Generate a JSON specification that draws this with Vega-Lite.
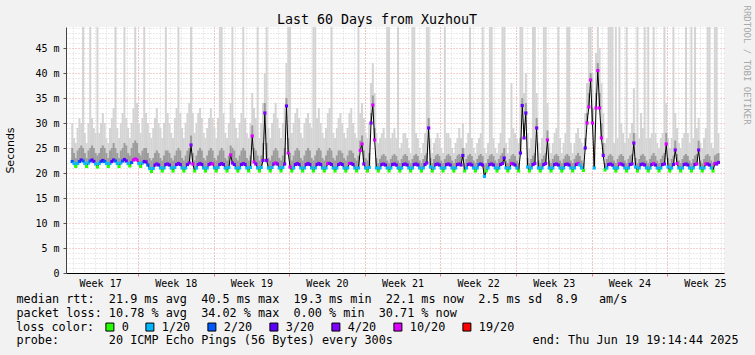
{
"$schema":"https://vega.github.io/schema/vega-lite/v6.json",
"width":658,"height":246,
"autosize":{"type":"none"},
"padding":{"left":66,"top":27,"right":31,"bottom":82},
"background":"#f2f2f2",
"title":{"text":"Last 60 Days from XuzhouT","font":"DejaVu Sans Mono","fontSize":13.3,"fontWeight":"normal","color":"#000000","anchor":"middle","frame":"group","dx":-18,"dy":35,"offset":3,"baseline":"alphabetic"},
"config":{"view":{"fill":"#ffffff","stroke":null}},
"data":{"format":{"parse":{"t":"utc:'%Y-%m-%d %H'"}},"values":[
{"t":"2025-04-20 22","m":22.3,"l":2,"a":25,"b":30},
{"t":"2025-04-21 02","m":21.9,"l":1,"a":24,"b":27},{"t":"2025-04-21 06","m":21.3,"l":0,"a":23,"b":26},{"t":"2025-04-21 10","m":21.9,"l":1,"a":24.5,"b":29},{"t":"2025-04-21 14","m":22.3,"l":2,"a":25,"b":31},{"t":"2025-04-21 18","m":22.6,"l":3,"a":25.5,"b":30},{"t":"2025-04-21 22","m":22.4,"l":2,"a":25,"b":50},
{"t":"2025-04-22 02","m":21.9,"l":1,"a":24,"b":28},{"t":"2025-04-22 06","m":21.3,"l":0,"a":23,"b":26},{"t":"2025-04-22 10","m":22.0,"l":1,"a":24.5,"b":30},{"t":"2025-04-22 14","m":22.4,"l":2,"a":25,"b":50},{"t":"2025-04-22 18","m":22.6,"l":3,"a":25.5,"b":31},{"t":"2025-04-22 22","m":22.3,"l":3,"a":25,"b":29},
{"t":"2025-04-23 02","m":21.8,"l":1,"a":24,"b":28},{"t":"2025-04-23 06","m":21.2,"l":0,"a":23.5,"b":50},{"t":"2025-04-23 10","m":21.9,"l":1,"a":24,"b":28},{"t":"2025-04-23 14","m":22.3,"l":2,"a":25,"b":30},{"t":"2025-04-23 18","m":22.5,"l":3,"a":25.5,"b":32},{"t":"2025-04-23 22","m":22.3,"l":2,"a":25,"b":30},
{"t":"2025-04-24 02","m":21.9,"l":1,"a":24,"b":27},{"t":"2025-04-24 06","m":21.3,"l":0,"a":23,"b":26},{"t":"2025-04-24 10","m":21.9,"l":1,"a":24.5,"b":29},{"t":"2025-04-24 14","m":22.3,"l":3,"a":25,"b":31},{"t":"2025-04-24 18","m":22.6,"l":3,"a":26,"b":33},{"t":"2025-04-24 22","m":22.4,"l":2,"a":25,"b":50},
{"t":"2025-04-25 02","m":21.9,"l":1,"a":24,"b":29},{"t":"2025-04-25 06","m":21.3,"l":0,"a":23,"b":27},{"t":"2025-04-25 10","m":22.0,"l":1,"a":24.5,"b":30},{"t":"2025-04-25 14","m":22.4,"l":2,"a":25,"b":32},{"t":"2025-04-25 18","m":22.7,"l":3,"a":26,"b":50},{"t":"2025-04-25 22","m":22.4,"l":3,"a":25.5,"b":31},
{"t":"2025-04-26 02","m":21.9,"l":1,"a":24,"b":29},{"t":"2025-04-26 06","m":21.4,"l":0,"a":23.5,"b":27},{"t":"2025-04-26 10","m":22.1,"l":2,"a":25,"b":30},{"t":"2025-04-26 14","m":22.6,"l":10,"a":26,"b":33},{"t":"2025-04-26 18","m":22.8,"l":10,"a":26.5,"b":50},{"t":"2025-04-26 22","m":22.6,"l":10,"a":26,"b":34},
{"t":"2025-04-27 02","m":21.9,"l":1,"a":24,"b":30},{"t":"2025-04-27 06","m":21.3,"l":0,"a":23.5,"b":28},{"t":"2025-04-27 10","m":22.0,"l":1,"a":24.5,"b":31},{"t":"2025-04-27 14","m":22.3,"l":3,"a":25,"b":50},{"t":"2025-04-27 18","m":22.2,"l":3,"a":25,"b":32},{"t":"2025-04-27 22","m":21.6,"l":2,"a":24,"b":30},
{"t":"2025-04-28 02","m":20.9,"l":1,"a":23,"b":28},{"t":"2025-04-28 06","m":20.3,"l":0,"a":22.5,"b":27},{"t":"2025-04-28 10","m":20.9,"l":1,"a":23,"b":29},{"t":"2025-04-28 14","m":21.6,"l":3,"a":24,"b":31},{"t":"2025-04-28 18","m":21.8,"l":4,"a":24.5,"b":33},{"t":"2025-04-28 22","m":21.6,"l":3,"a":24,"b":30},
{"t":"2025-04-29 02","m":21.0,"l":1,"a":23,"b":29},{"t":"2025-04-29 06","m":20.4,"l":0,"a":22.5,"b":27},{"t":"2025-04-29 10","m":21.0,"l":1,"a":23.5,"b":30},{"t":"2025-04-29 14","m":21.7,"l":3,"a":24.5,"b":50},{"t":"2025-04-29 18","m":21.8,"l":4,"a":24.5,"b":32},{"t":"2025-04-29 22","m":21.6,"l":3,"a":24,"b":30},
{"t":"2025-04-30 02","m":21.0,"l":1,"a":23,"b":28},{"t":"2025-04-30 06","m":20.4,"l":0,"a":22.5,"b":27},{"t":"2025-04-30 10","m":21.1,"l":1,"a":23.5,"b":31},{"t":"2025-04-30 14","m":21.7,"l":3,"a":24.5,"b":33},{"t":"2025-04-30 18","m":21.9,"l":4,"a":25,"b":50},{"t":"2025-04-30 22","m":21.7,"l":3,"a":24.5,"b":32},
{"t":"2025-05-01 02","m":21.0,"l":1,"a":23,"b":29},{"t":"2025-05-01 06","m":20.4,"l":0,"a":22.5,"b":27},{"t":"2025-05-01 10","m":21.0,"l":1,"a":23.5,"b":30},{"t":"2025-05-01 14","m":21.7,"l":3,"a":24.5,"b":32},{"t":"2025-05-01 18","m":22.0,"l":4,"a":25,"b":34},{"t":"2025-05-01 22","m":25.6,"l":4,"a":27.5,"b":50},
{"t":"2025-05-02 02","m":21.8,"l":10,"a":24,"b":32},{"t":"2025-05-02 06","m":20.4,"l":0,"a":22.5,"b":28},{"t":"2025-05-02 10","m":21.0,"l":1,"a":23.5,"b":30},{"t":"2025-05-02 14","m":21.7,"l":4,"a":24.5,"b":32},{"t":"2025-05-02 18","m":21.9,"l":4,"a":25,"b":33},{"t":"2025-05-02 22","m":21.7,"l":3,"a":24.5,"b":31},
{"t":"2025-05-03 02","m":21.0,"l":1,"a":23,"b":28},{"t":"2025-05-03 06","m":20.4,"l":0,"a":22.5,"b":27},{"t":"2025-05-03 10","m":21.0,"l":1,"a":23.5,"b":29},{"t":"2025-05-03 14","m":21.7,"l":4,"a":24.5,"b":31},{"t":"2025-05-03 18","m":21.9,"l":4,"a":25,"b":33},{"t":"2025-05-03 22","m":21.8,"l":10,"a":24.5,"b":31},
{"t":"2025-05-04 02","m":21.0,"l":1,"a":23,"b":29},{"t":"2025-05-04 06","m":20.4,"l":0,"a":22.5,"b":27},{"t":"2025-05-04 10","m":21.1,"l":1,"a":23.5,"b":31},{"t":"2025-05-04 14","m":21.7,"l":3,"a":24.5,"b":50},{"t":"2025-05-04 18","m":21.9,"l":4,"a":25,"b":50},{"t":"2025-05-04 22","m":21.7,"l":3,"a":24.5,"b":32},
{"t":"2025-05-05 02","m":21.0,"l":1,"a":23,"b":28},{"t":"2025-05-05 06","m":20.4,"l":0,"a":22.5,"b":27},{"t":"2025-05-05 10","m":21.1,"l":1,"a":23.5,"b":30},{"t":"2025-05-05 14","m":23.6,"l":10,"a":25.5,"b":34},{"t":"2025-05-05 18","m":22.0,"l":4,"a":25,"b":50},{"t":"2025-05-05 22","m":21.7,"l":3,"a":24.5,"b":31},
{"t":"2025-05-06 02","m":21.0,"l":1,"a":23,"b":29},{"t":"2025-05-06 06","m":20.4,"l":0,"a":22.5,"b":27},{"t":"2025-05-06 10","m":21.0,"l":1,"a":23.5,"b":30},{"t":"2025-05-06 14","m":21.7,"l":3,"a":24.5,"b":32},{"t":"2025-05-06 18","m":21.9,"l":4,"a":25,"b":50},{"t":"2025-05-06 22","m":21.7,"l":3,"a":24.5,"b":31},
{"t":"2025-05-07 02","m":21.0,"l":1,"a":23,"b":28},{"t":"2025-05-07 06","m":20.4,"l":0,"a":22.5,"b":27},{"t":"2025-05-07 10","m":21.1,"l":1,"a":23.5,"b":30},{"t":"2025-05-07 14","m":27.4,"l":10,"a":29.5,"b":36},{"t":"2025-05-07 18","m":22.2,"l":10,"a":25,"b":33},{"t":"2025-05-07 22","m":21.8,"l":4,"a":24.5,"b":31},
{"t":"2025-05-08 02","m":21.0,"l":1,"a":23.5,"b":50},{"t":"2025-05-08 06","m":20.4,"l":0,"a":22.5,"b":27},{"t":"2025-05-08 10","m":21.1,"l":1,"a":23.5,"b":30},{"t":"2025-05-08 14","m":22.5,"l":4,"a":26,"b":34},{"t":"2025-05-08 18","m":32.0,"l":4,"a":34,"b":40},{"t":"2025-05-08 22","m":22.5,"l":4,"a":26,"b":50},
{"t":"2025-05-09 02","m":21.0,"l":1,"a":23,"b":29},{"t":"2025-05-09 06","m":20.4,"l":0,"a":22.5,"b":27},{"t":"2025-05-09 10","m":21.1,"l":1,"a":23.5,"b":30},{"t":"2025-05-09 14","m":21.8,"l":4,"a":24.5,"b":32},{"t":"2025-05-09 18","m":22.0,"l":10,"a":25,"b":34},{"t":"2025-05-09 22","m":21.8,"l":4,"a":24.5,"b":31},
{"t":"2025-05-10 02","m":21.0,"l":1,"a":23,"b":29},{"t":"2025-05-10 06","m":20.4,"l":0,"a":22.5,"b":27},{"t":"2025-05-10 10","m":21.1,"l":1,"a":23.5,"b":30},{"t":"2025-05-10 14","m":21.8,"l":4,"a":25,"b":33},{"t":"2025-05-10 18","m":33.4,"l":3,"a":35,"b":42},{"t":"2025-05-10 22","m":24.0,"l":10,"a":27,"b":50},
{"t":"2025-05-11 02","m":21.2,"l":10,"a":24,"b":50},{"t":"2025-05-11 06","m":20.4,"l":0,"a":22.5,"b":28},{"t":"2025-05-11 10","m":21.0,"l":1,"a":23.5,"b":30},{"t":"2025-05-11 14","m":21.7,"l":3,"a":24.5,"b":32},{"t":"2025-05-11 18","m":21.9,"l":4,"a":25,"b":33},{"t":"2025-05-11 22","m":21.7,"l":3,"a":24.5,"b":31},
{"t":"2025-05-12 02","m":21.0,"l":1,"a":23,"b":28},{"t":"2025-05-12 06","m":20.4,"l":0,"a":22.5,"b":27},{"t":"2025-05-12 10","m":21.0,"l":1,"a":23.5,"b":30},{"t":"2025-05-12 14","m":21.7,"l":3,"a":24.5,"b":31},{"t":"2025-05-12 18","m":21.9,"l":4,"a":25,"b":32},{"t":"2025-05-12 22","m":21.7,"l":3,"a":24.5,"b":30},
{"t":"2025-05-13 02","m":21.0,"l":1,"a":23,"b":29},{"t":"2025-05-13 06","m":20.4,"l":0,"a":22.5,"b":50},{"t":"2025-05-13 10","m":21.0,"l":1,"a":23.5,"b":50},{"t":"2025-05-13 14","m":21.7,"l":3,"a":24.5,"b":31},{"t":"2025-05-13 18","m":21.9,"l":4,"a":25,"b":33},{"t":"2025-05-13 22","m":21.7,"l":3,"a":24.5,"b":30},
{"t":"2025-05-14 02","m":21.0,"l":1,"a":23,"b":28},{"t":"2025-05-14 06","m":20.4,"l":0,"a":22.5,"b":27},{"t":"2025-05-14 10","m":21.0,"l":1,"a":23.5,"b":29},{"t":"2025-05-14 14","m":21.9,"l":10,"a":24.5,"b":32},{"t":"2025-05-14 18","m":21.9,"l":4,"a":25,"b":33},{"t":"2025-05-14 22","m":21.7,"l":3,"a":24.5,"b":50},
{"t":"2025-05-15 02","m":21.0,"l":1,"a":23,"b":28},{"t":"2025-05-15 06","m":20.4,"l":0,"a":22.5,"b":27},{"t":"2025-05-15 10","m":21.0,"l":1,"a":23.5,"b":29},{"t":"2025-05-15 14","m":21.7,"l":3,"a":24.5,"b":31},{"t":"2025-05-15 18","m":21.9,"l":4,"a":24.5,"b":32},{"t":"2025-05-15 22","m":21.7,"l":3,"a":24,"b":30},
{"t":"2025-05-16 02","m":21.0,"l":1,"a":23,"b":28},{"t":"2025-05-16 06","m":20.4,"l":0,"a":22.5,"b":27},{"t":"2025-05-16 10","m":21.0,"l":1,"a":23.5,"b":29},{"t":"2025-05-16 14","m":21.9,"l":10,"a":24.5,"b":32},{"t":"2025-05-16 18","m":21.9,"l":4,"a":24.5,"b":33},{"t":"2025-05-16 22","m":21.7,"l":3,"a":24,"b":30},
{"t":"2025-05-17 02","m":21.0,"l":1,"a":23,"b":28},{"t":"2025-05-17 06","m":20.4,"l":0,"a":22.5,"b":27},{"t":"2025-05-17 10","m":21.0,"l":1,"a":23.5,"b":50},{"t":"2025-05-17 14","m":24.5,"l":10,"a":26.5,"b":32},{"t":"2025-05-17 18","m":25.8,"l":10,"a":27.5,"b":34},{"t":"2025-05-17 22","m":21.8,"l":4,"a":24.5,"b":31},
{"t":"2025-05-18 02","m":21.0,"l":1,"a":23,"b":28},{"t":"2025-05-18 06","m":20.4,"l":0,"a":22.5,"b":27},{"t":"2025-05-18 10","m":21.1,"l":1,"a":24,"b":30},{"t":"2025-05-18 14","m":30.0,"l":4,"a":32,"b":38},{"t":"2025-05-18 18","m":33.6,"l":10,"a":35.5,"b":42},{"t":"2025-05-18 22","m":26.6,"l":10,"a":29,"b":36},
{"t":"2025-05-19 02","m":21.0,"l":1,"a":23,"b":28},{"t":"2025-05-19 06","m":20.4,"l":0,"a":22,"b":26},{"t":"2025-05-19 10","m":21.0,"l":1,"a":22.8,"b":27},{"t":"2025-05-19 14","m":21.7,"l":3,"a":23.5,"b":28},{"t":"2025-05-19 18","m":21.8,"l":4,"a":23.8,"b":29},{"t":"2025-05-19 22","m":21.6,"l":3,"a":23.4,"b":27},
{"t":"2025-05-20 02","m":21.0,"l":1,"a":22.5,"b":50},{"t":"2025-05-20 06","m":20.4,"l":0,"a":22,"b":50},{"t":"2025-05-20 10","m":21.0,"l":1,"a":22.8,"b":27},{"t":"2025-05-20 14","m":21.7,"l":3,"a":23.5,"b":28},{"t":"2025-05-20 18","m":21.8,"l":4,"a":23.8,"b":29},{"t":"2025-05-20 22","m":21.6,"l":3,"a":23.4,"b":27},
{"t":"2025-05-21 02","m":21.0,"l":1,"a":22.5,"b":50},{"t":"2025-05-21 06","m":20.4,"l":0,"a":22,"b":25},{"t":"2025-05-21 10","m":21.0,"l":1,"a":22.8,"b":26},{"t":"2025-05-21 14","m":21.7,"l":3,"a":23.5,"b":28},{"t":"2025-05-21 18","m":21.8,"l":4,"a":23.8,"b":28},{"t":"2025-05-21 22","m":21.6,"l":3,"a":23.4,"b":27},
{"t":"2025-05-22 02","m":21.0,"l":1,"a":22.5,"b":25},{"t":"2025-05-22 06","m":20.4,"l":0,"a":22,"b":24},{"t":"2025-05-22 10","m":21.0,"l":1,"a":22.8,"b":50},{"t":"2025-05-22 14","m":21.7,"l":3,"a":23.5,"b":50},{"t":"2025-05-22 18","m":21.8,"l":4,"a":23.8,"b":28},{"t":"2025-05-22 22","m":21.6,"l":3,"a":23.4,"b":27},
{"t":"2025-05-23 02","m":21.0,"l":1,"a":22.5,"b":25},{"t":"2025-05-23 06","m":20.4,"l":0,"a":22,"b":24},{"t":"2025-05-23 10","m":21.0,"l":1,"a":22.8,"b":26},{"t":"2025-05-23 14","m":21.7,"l":3,"a":23.5,"b":28},{"t":"2025-05-23 18","m":22.0,"l":4,"a":24,"b":50},{"t":"2025-05-23 22","m":29.0,"l":4,"a":31,"b":50},
{"t":"2025-05-24 02","m":21.2,"l":1,"a":23,"b":27},{"t":"2025-05-24 06","m":20.4,"l":0,"a":22,"b":24},{"t":"2025-05-24 10","m":21.0,"l":1,"a":22.8,"b":26},{"t":"2025-05-24 14","m":21.7,"l":3,"a":23.5,"b":27},{"t":"2025-05-24 18","m":21.8,"l":4,"a":23.8,"b":28},{"t":"2025-05-24 22","m":21.6,"l":3,"a":23.4,"b":27},
{"t":"2025-05-25 02","m":21.0,"l":1,"a":22.5,"b":25},{"t":"2025-05-25 06","m":20.4,"l":0,"a":22,"b":24},{"t":"2025-05-25 10","m":21.0,"l":1,"a":22.8,"b":50},{"t":"2025-05-25 14","m":21.7,"l":3,"a":23.5,"b":28},{"t":"2025-05-25 18","m":21.8,"l":4,"a":23.8,"b":28},{"t":"2025-05-25 22","m":21.6,"l":3,"a":23.4,"b":27},
{"t":"2025-05-26 02","m":21.0,"l":1,"a":22.5,"b":25},{"t":"2025-05-26 06","m":20.4,"l":0,"a":22,"b":24},{"t":"2025-05-26 10","m":21.0,"l":1,"a":22.8,"b":26},{"t":"2025-05-26 14","m":21.7,"l":3,"a":23.5,"b":27},{"t":"2025-05-26 18","m":21.8,"l":4,"a":23.8,"b":29},{"t":"2025-05-26 22","m":21.6,"l":3,"a":23.4,"b":27},
{"t":"2025-05-27 02","m":23.5,"l":3,"a":25,"b":30},{"t":"2025-05-27 06","m":20.4,"l":0,"a":22,"b":25},{"t":"2025-05-27 10","m":21.0,"l":1,"a":22.8,"b":26},{"t":"2025-05-27 14","m":21.7,"l":3,"a":23.5,"b":28},{"t":"2025-05-27 18","m":21.8,"l":4,"a":23.8,"b":50},{"t":"2025-05-27 22","m":21.6,"l":3,"a":23.4,"b":27},
{"t":"2025-05-28 02","m":21.0,"l":1,"a":22.5,"b":25},{"t":"2025-05-28 06","m":20.4,"l":0,"a":22,"b":24},{"t":"2025-05-28 10","m":21.0,"l":1,"a":22.8,"b":26},{"t":"2025-05-28 14","m":21.7,"l":2,"a":23.5,"b":27},{"t":"2025-05-28 18","m":21.8,"l":3,"a":23.8,"b":28},{"t":"2025-05-28 22","m":21.6,"l":3,"a":23.4,"b":50},
{"t":"2025-05-29 02","m":19.3,"l":1,"a":21.5,"b":25},{"t":"2025-05-29 06","m":20.4,"l":0,"a":22,"b":24},{"t":"2025-05-29 10","m":21.0,"l":1,"a":22.8,"b":26},{"t":"2025-05-29 14","m":21.7,"l":3,"a":23.5,"b":50},{"t":"2025-05-29 18","m":21.8,"l":4,"a":23.8,"b":50},{"t":"2025-05-29 22","m":21.6,"l":3,"a":23.4,"b":27},
{"t":"2025-05-30 02","m":21.0,"l":1,"a":22.5,"b":25},{"t":"2025-05-30 06","m":20.4,"l":0,"a":22,"b":24},{"t":"2025-05-30 10","m":21.0,"l":1,"a":22.8,"b":26},{"t":"2025-05-30 14","m":21.7,"l":3,"a":23.5,"b":28},{"t":"2025-05-30 18","m":21.9,"l":4,"a":24,"b":50},{"t":"2025-05-30 22","m":23.0,"l":3,"a":25,"b":50},
{"t":"2025-05-31 02","m":21.0,"l":1,"a":22.5,"b":26},{"t":"2025-05-31 06","m":20.4,"l":0,"a":22,"b":24},{"t":"2025-05-31 10","m":21.0,"l":1,"a":22.8,"b":27},{"t":"2025-05-31 14","m":21.9,"l":10,"a":23.5,"b":38},{"t":"2025-05-31 18","m":21.8,"l":4,"a":23.8,"b":29},{"t":"2025-05-31 22","m":21.6,"l":3,"a":23.4,"b":28},
{"t":"2025-06-01 02","m":21.0,"l":1,"a":22.5,"b":27},{"t":"2025-06-01 06","m":20.4,"l":0,"a":22,"b":26},{"t":"2025-06-01 10","m":24.0,"l":3,"a":27,"b":50},{"t":"2025-06-01 14","m":33.5,"l":3,"a":35,"b":50},{"t":"2025-06-01 18","m":27.0,"l":4,"a":30,"b":36},{"t":"2025-06-01 22","m":32.0,"l":3,"a":34,"b":40},
{"t":"2025-06-02 02","m":21.2,"l":1,"a":23,"b":28},{"t":"2025-06-02 06","m":20.4,"l":0,"a":22,"b":25},{"t":"2025-06-02 10","m":21.0,"l":1,"a":22.8,"b":27},{"t":"2025-06-02 14","m":21.7,"l":3,"a":23.5,"b":50},{"t":"2025-06-02 18","m":21.9,"l":4,"a":24,"b":50},{"t":"2025-06-02 22","m":29.0,"l":4,"a":31,"b":36},
{"t":"2025-06-03 02","m":21.0,"l":1,"a":22.5,"b":26},{"t":"2025-06-03 06","m":20.4,"l":0,"a":22,"b":24},{"t":"2025-06-03 10","m":21.0,"l":1,"a":22.8,"b":27},{"t":"2025-06-03 14","m":21.7,"l":3,"a":23.5,"b":50},{"t":"2025-06-03 18","m":21.9,"l":4,"a":24,"b":50},{"t":"2025-06-03 22","m":26.6,"l":10,"a":28.5,"b":34},
{"t":"2025-06-04 02","m":21.0,"l":1,"a":22.5,"b":26},{"t":"2025-06-04 06","m":20.4,"l":0,"a":22,"b":24},{"t":"2025-06-04 10","m":21.0,"l":1,"a":22.8,"b":26},{"t":"2025-06-04 14","m":21.7,"l":3,"a":23.5,"b":28},{"t":"2025-06-04 18","m":21.8,"l":4,"a":23.8,"b":29},{"t":"2025-06-04 22","m":21.6,"l":3,"a":23.4,"b":50},
{"t":"2025-06-05 02","m":21.0,"l":1,"a":22.5,"b":27},{"t":"2025-06-05 06","m":20.4,"l":0,"a":22,"b":24},{"t":"2025-06-05 10","m":21.0,"l":1,"a":22.8,"b":26},{"t":"2025-06-05 14","m":21.7,"l":3,"a":23.5,"b":28},{"t":"2025-06-05 18","m":21.8,"l":4,"a":23.8,"b":50},{"t":"2025-06-05 22","m":21.6,"l":3,"a":23.4,"b":50},
{"t":"2025-06-06 02","m":21.0,"l":1,"a":22.5,"b":26},{"t":"2025-06-06 06","m":20.4,"l":0,"a":22,"b":24},{"t":"2025-06-06 10","m":21.0,"l":1,"a":22.8,"b":26},{"t":"2025-06-06 14","m":21.7,"l":3,"a":23.5,"b":28},{"t":"2025-06-06 18","m":21.9,"l":10,"a":24,"b":29},{"t":"2025-06-06 22","m":21.6,"l":1,"a":23.4,"b":27},
{"t":"2025-06-07 02","m":21.0,"l":1,"a":22.5,"b":26},{"t":"2025-06-07 06","m":20.5,"l":0,"a":22,"b":25},{"t":"2025-06-07 10","m":25.0,"l":3,"a":27,"b":32},{"t":"2025-06-07 14","m":30.0,"l":10,"a":32,"b":38},{"t":"2025-06-07 18","m":33.2,"l":10,"a":36,"b":50},{"t":"2025-06-07 22","m":38.6,"l":10,"a":40,"b":50},
{"t":"2025-06-08 02","m":30.0,"l":10,"a":33,"b":40},{"t":"2025-06-08 06","m":21.0,"l":1,"a":24,"b":30},{"t":"2025-06-08 10","m":33.0,"l":10,"a":36,"b":44},{"t":"2025-06-08 14","m":40.5,"l":10,"a":42,"b":50},{"t":"2025-06-08 18","m":33.0,"l":10,"a":36,"b":45},{"t":"2025-06-08 22","m":27.0,"l":10,"a":30,"b":38},
{"t":"2025-06-09 02","m":23.5,"l":4,"a":26,"b":32},{"t":"2025-06-09 06","m":20.6,"l":0,"a":22,"b":26},{"t":"2025-06-09 10","m":21.0,"l":1,"a":22.8,"b":27},{"t":"2025-06-09 14","m":21.7,"l":3,"a":23.5,"b":50},{"t":"2025-06-09 18","m":21.8,"l":4,"a":23.8,"b":50},{"t":"2025-06-09 22","m":21.6,"l":3,"a":23.4,"b":50},
{"t":"2025-06-10 02","m":21.0,"l":1,"a":22.5,"b":26},{"t":"2025-06-10 06","m":20.4,"l":0,"a":22,"b":50},{"t":"2025-06-10 10","m":21.0,"l":1,"a":22.8,"b":27},{"t":"2025-06-10 14","m":21.8,"l":10,"a":23.5,"b":50},{"t":"2025-06-10 18","m":21.8,"l":4,"a":23.8,"b":30},{"t":"2025-06-10 22","m":21.6,"l":3,"a":23.4,"b":28},
{"t":"2025-06-11 02","m":21.0,"l":1,"a":22.5,"b":26},{"t":"2025-06-11 06","m":20.4,"l":0,"a":22,"b":50},{"t":"2025-06-11 10","m":21.0,"l":1,"a":22.8,"b":27},{"t":"2025-06-11 14","m":21.7,"l":3,"a":23.5,"b":28},{"t":"2025-06-11 18","m":21.8,"l":4,"a":23.8,"b":30},{"t":"2025-06-11 22","m":26.0,"l":4,"a":28,"b":37},
{"t":"2025-06-12 02","m":21.2,"l":1,"a":23,"b":28},{"t":"2025-06-12 06","m":20.4,"l":0,"a":22,"b":50},{"t":"2025-06-12 10","m":21.0,"l":1,"a":22.8,"b":27},{"t":"2025-06-12 14","m":21.7,"l":3,"a":23.5,"b":32},{"t":"2025-06-12 18","m":21.8,"l":4,"a":23.8,"b":29},{"t":"2025-06-12 22","m":21.6,"l":3,"a":23.4,"b":50},
{"t":"2025-06-13 02","m":21.0,"l":1,"a":22.5,"b":27},{"t":"2025-06-13 06","m":20.4,"l":0,"a":22,"b":50},{"t":"2025-06-13 10","m":21.0,"l":1,"a":22.8,"b":27},{"t":"2025-06-13 14","m":21.7,"l":3,"a":23.5,"b":28},{"t":"2025-06-13 18","m":21.9,"l":10,"a":24,"b":50},{"t":"2025-06-13 22","m":21.6,"l":3,"a":23.4,"b":28},
{"t":"2025-06-14 02","m":21.0,"l":1,"a":22.5,"b":26},{"t":"2025-06-14 06","m":20.4,"l":0,"a":22,"b":25},{"t":"2025-06-14 10","m":21.0,"l":1,"a":22.8,"b":27},{"t":"2025-06-14 14","m":21.7,"l":3,"a":23.5,"b":28},{"t":"2025-06-14 18","m":21.8,"l":4,"a":24,"b":50},{"t":"2025-06-14 22","m":25.8,"l":10,"a":28,"b":34},
{"t":"2025-06-15 02","m":21.2,"l":1,"a":23,"b":27},{"t":"2025-06-15 06","m":20.4,"l":0,"a":22,"b":25},{"t":"2025-06-15 10","m":21.0,"l":1,"a":22.8,"b":27},{"t":"2025-06-15 14","m":21.7,"l":3,"a":23.5,"b":50},{"t":"2025-06-15 18","m":24.6,"l":4,"a":26.5,"b":32},{"t":"2025-06-15 22","m":21.9,"l":10,"a":23.8,"b":29},
{"t":"2025-06-16 02","m":21.0,"l":1,"a":22.5,"b":26},{"t":"2025-06-16 06","m":20.4,"l":0,"a":22,"b":25},{"t":"2025-06-16 10","m":21.0,"l":1,"a":22.8,"b":27},{"t":"2025-06-16 14","m":21.7,"l":3,"a":23.5,"b":28},{"t":"2025-06-16 18","m":21.8,"l":4,"a":23.8,"b":50},{"t":"2025-06-16 22","m":21.6,"l":3,"a":23.4,"b":28},
{"t":"2025-06-17 02","m":21.0,"l":1,"a":22.5,"b":26},{"t":"2025-06-17 06","m":20.4,"l":0,"a":22,"b":50},{"t":"2025-06-17 10","m":21.0,"l":1,"a":22.8,"b":27},{"t":"2025-06-17 14","m":21.7,"l":3,"a":23.5,"b":50},{"t":"2025-06-17 18","m":21.8,"l":10,"a":23.8,"b":29},{"t":"2025-06-17 22","m":24.6,"l":4,"a":26.5,"b":31},
{"t":"2025-06-18 02","m":21.0,"l":1,"a":22.5,"b":26},{"t":"2025-06-18 06","m":20.4,"l":0,"a":22,"b":25},{"t":"2025-06-18 10","m":21.0,"l":1,"a":22.8,"b":27},{"t":"2025-06-18 14","m":21.8,"l":10,"a":23.5,"b":29},{"t":"2025-06-18 18","m":21.8,"l":4,"a":23.8,"b":50},{"t":"2025-06-18 22","m":21.6,"l":3,"a":23.4,"b":50},
{"t":"2025-06-19 02","m":21.0,"l":1,"a":22.5,"b":26},{"t":"2025-06-19 06","m":20.4,"l":0,"a":22,"b":25},{"t":"2025-06-19 10","m":21.9,"l":10,"a":23.5,"b":50},{"t":"2025-06-19 14","m":21.8,"l":4,"a":23.8,"b":50},{"t":"2025-06-19 18","m":22.1,"l":4,"a":24,"b":28}
]},
"layer":[
{"mark":{"type":"bar","color":"#d4d4d4","width":2,"clip":true},
 "encoding":{
  "x":{"field":"t","type":"temporal","scale":{"type":"utc","nice":false,"domain":[{"year":2025,"month":4,"date":20,"hours":19,"minutes":14,"seconds":44,"utc":true},{"year":2025,"month":6,"date":19,"hours":19,"minutes":14,"seconds":44,"utc":true}]},
   "axis":{"orient":"bottom","labels":false,"ticks":false,"domain":false,"grid":true,"gridColor":"#d6d6d6","gridDash":[1,2],"gridWidth":1,"tickCount":{"interval":"day","step":1},
    "title":"end: Thu Jun 19 19:14:44 2025","titleFont":"DejaVu Sans Mono","titleFontSize":11.8,"titleFontWeight":"normal","titleColor":"#000000","titleX":672,"titleY":70.5,"titleAlign":"right","titleAnchor":"end","titleBaseline":"alphabetic"}},
  "y":{"field":"m","type":"quantitative","scale":{"domain":[0,49.2],"nice":false,"zero":false},
   "axis":{"orient":"left","title":null,"labels":false,"ticks":false,"domain":false,"grid":true,"gridColor":"#d6d6d6","gridDash":[1,2],"gridWidth":1,"values":[1,2,3,4,6,7,8,9,11,12,13,14,16,17,18,19,21,22,23,24,26,27,28,29,31,32,33,34,36,37,38,39,41,42,43,44,46,47,48,49]}},
  "y2":{"field":"b"}}},
{"mark":{"type":"bar","color":"#9c9c9c","width":2,"clip":true},
 "encoding":{
  "x":{"field":"t","type":"temporal","scale":{"type":"utc","nice":false,"domain":[{"year":2025,"month":4,"date":20,"hours":19,"minutes":14,"seconds":44,"utc":true},{"year":2025,"month":6,"date":19,"hours":19,"minutes":14,"seconds":44,"utc":true}]},
   "axis":{"orient":"bottom","labels":false,"ticks":true,"tickColor":"#e08080","tickSize":3,"domain":false,"grid":true,"gridColor":"#eea0a0","gridDash":[1,2],"gridWidth":1,"tickCount":{"interval":"week","step":1},
    "title":"probe:\u00a0\u00a0\u00a0\u00a0\u00a0\u00a0\u00a020 ICMP Echo Pings (56 Bytes) every 300s","titleFont":"DejaVu Sans Mono","titleFontSize":11.8,"titleFontWeight":"normal","titleColor":"#000000","titleX":-50,"titleY":70.5,"titleAlign":"left","titleAnchor":"start","titleBaseline":"alphabetic"}},
  "y":{"field":"m","type":"quantitative","scale":{"domain":[0,49.2],"nice":false,"zero":false},
   "axis":{"orient":"left","values":[0,5,10,15,20,25,30,35,40,45],"labelExpr":"datum.value == 0 ? '0' : datum.value + ' m'","labelFont":"DejaVu Sans Mono","labelFontSize":10,"labelColor":"#000000","labelPadding":4,"ticks":true,"tickSize":3,"tickColor":"#555555","domain":true,"domainColor":"#444444","grid":true,"gridColor":"#eea0a0","gridDash":[1,2],"gridWidth":1,
    "title":"Seconds","titleFont":"DejaVu Sans","titleFontSize":11,"titleFontWeight":"normal","titleColor":"#000000","titleX":-56,"titleY":123,"titleAngle":270,"titleAlign":"center","titleBaseline":"middle"}},
  "y2":{"field":"a"}}},
{"mark":{"type":"line","color":"#000000","strokeWidth":1,"clip":true},
 "encoding":{
  "x":{"field":"t","type":"temporal","scale":{"type":"utc","nice":false,"domain":[{"year":2025,"month":4,"date":20,"hours":19,"minutes":14,"seconds":44,"utc":true},{"year":2025,"month":6,"date":19,"hours":19,"minutes":14,"seconds":44,"utc":true}]},
   "axis":{"orient":"bottom","values":[{"year":2025,"month":4,"date":23,"hours":12,"utc":true},{"year":2025,"month":4,"date":30,"hours":12,"utc":true},{"year":2025,"month":5,"date":7,"hours":12,"utc":true},{"year":2025,"month":5,"date":14,"hours":12,"utc":true},{"year":2025,"month":5,"date":21,"hours":12,"utc":true},{"year":2025,"month":5,"date":28,"hours":12,"utc":true},{"year":2025,"month":6,"date":4,"hours":12,"utc":true},{"year":2025,"month":6,"date":11,"hours":12,"utc":true},{"year":2025,"month":6,"date":18,"hours":12,"utc":true}],
    "labelExpr":"'Week ' + utcFormat(datum.value, '%V')","labelFont":"DejaVu Sans Mono","labelFontSize":10,"labelColor":"#000000","labelPadding":5,"labelFlush":false,"labelOverlap":false,"ticks":false,"grid":false,"domain":true,"domainColor":"#000000","domainWidth":1,
    "title":["median rtt:\u00a0\u00a021.9 ms avg\u00a0\u00a040.5 ms max\u00a0\u00a019.3 ms min\u00a0\u00a022.1 ms now\u00a0\u00a02.5 ms sd\u00a0\u00a08.9\u00a0\u00a0\u00a0am/s","packet loss: 10.78 % avg\u00a0\u00a034.02 % max\u00a0\u00a00.00 % min\u00a0\u00a030.71 % now"],
    "titleFont":"DejaVu Sans Mono","titleFontSize":11.8,"titleFontWeight":"normal","titleColor":"#000000","titleLineHeight":13.7,"titleX":-50,"titleY":29.5,"titleAlign":"left","titleAnchor":"start","titleBaseline":"alphabetic"}},
  "y":{"field":"m","type":"quantitative","scale":{"domain":[0,49.2],"nice":false,"zero":false},
   "axis":{"orient":"right","labels":false,"ticks":false,"domain":false,"grid":false,"title":"RRDTOOL / TOBI OETIKER","titleFont":"DejaVu Sans Mono","titleFontSize":9,"titleFontWeight":"normal","titleColor":"#a8a8a8","titleAngle":90,"titleX":22,"titleY":-22,"titleAlign":"left","titleBaseline":"middle"}}}},
{"mark":{"type":"square","size":10,"filled":true,"opacity":1,"clip":true},
 "encoding":{
  "x":{"field":"t","type":"temporal","scale":{"type":"utc","nice":false,"domain":[{"year":2025,"month":4,"date":20,"hours":19,"minutes":14,"seconds":44,"utc":true},{"year":2025,"month":6,"date":19,"hours":19,"minutes":14,"seconds":44,"utc":true}]},"axis":null},
  "y":{"field":"m","type":"quantitative","scale":{"domain":[0,49.2],"nice":false,"zero":false},"axis":null},
  "color":{"field":"l","type":"ordinal","scale":{"domain":[0,1,2,3,4,10,19],"range":["#26ff00","#00b8ff","#0059ff","#5e00ff","#7e00ff","#dd00ff","#ff0000"]},
   "legend":{"orient":"none","legendX":-50,"legendY":294,"direction":"horizontal","columns":7,"title":"loss color:","titleOrient":"left","titleFont":"DejaVu Sans Mono","titleFontSize":11.8,"titleFontWeight":"normal","titleColor":"#000000","titlePadding":9,"titleBaseline":"middle","titleAnchor":"middle","padding":0,"symbolType":"square","symbolSize":64,"symbolStrokeColor":"#000000","symbolStrokeWidth":1,"symbolOpacity":1,"labelFont":"DejaVu Sans Mono","labelFontSize":11.8,"labelColor":"#000000","labelOffset":6,"columnPadding":14,"labelExpr":"datum.value == 0 ? '0' : datum.value + '/20'"}}}}
],
"resolve":{"axis":{"x":"independent","y":"independent"}}
}
